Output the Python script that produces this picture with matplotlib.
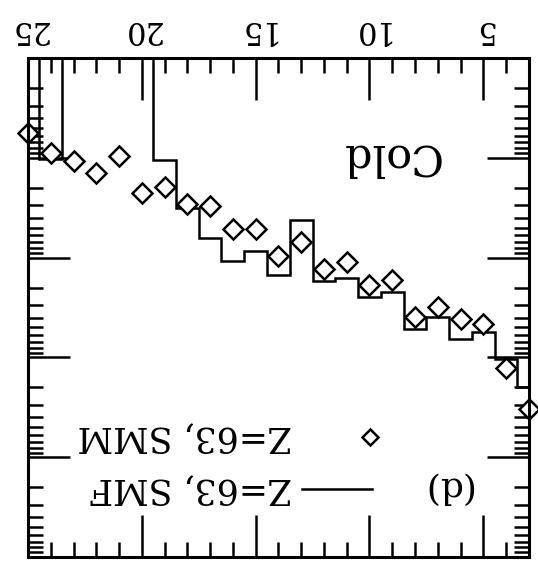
import numpy as np
import matplotlib.pyplot as plt
from matplotlib.ticker import MultipleLocator, LogLocator, NullFormatter

plt.rcParams['font.family'] = 'DejaVu Serif'

# isotope index (bin centres) and yields
n_vals = np.arange(3, 26)
bin_edges = np.arange(2.5, 26.0, 1.0)
smf_yield = [1.98e-2, 1.04e-2, 5.56e-3, 6.55e-3, 3.94e-3, 5.19e-3, 2.21e-3,
             2.48e-3, 1.60e-3, 1.71e-3, 4.2e-4, 1.49e-3, 8.6e-4, 1.08e-3,
             6.37e-4, 3.18e-4, 1.05e-4, 0, 0, 0, 0, 1.03e-4, 0]
smm_yield = [3.29e-2, 1.28e-2, 4.62e-3, 4.12e-3, 3.13e-3, 3.94e-3, 1.67e-3,
             1.88e-3, 1.11e-3, 1.30e-3, 6.98e-4, 9.6e-4, 5.16e-4, 5.16e-4,
             3.04e-4, 2.9e-4, 1.96e-4, 2.25e-4, 9.6e-5, 1.42e-4, 1.08e-4,
             8.95e-5, 5.65e-5]
x_ticks = [5, 10, 15, 20, 25]

fig = plt.figure(figsize=(5.38, 5.63), dpi=100)
ax = fig.add_axes([0.052, 0.0107, 0.931, 0.8863])

# empty bins go off the top of the (inverted) log axis
smf_draw = np.where(np.array(smf_yield) > 0, smf_yield, 1e-9)
ax.stairs(smf_draw, bin_edges, baseline=None, color='black', lw=1.8)
ax.plot(n_vals, smm_yield, 'D', ms=10, mfc='white', mec='black', mew=1.8,
        ls='none', clip_on=False)

ax.set_yscale('log')
ax.set_xlim(25, 3)
ax.set_ylim(1e0, 1e-5)

ax.set_xticks(x_ticks)
ax.xaxis.set_minor_locator(MultipleLocator(1))
ax.yaxis.set_major_locator(LogLocator(base=10, numticks=20))
ax.yaxis.set_minor_locator(LogLocator(base=10, subs=np.arange(2, 10), numticks=20))
ax.yaxis.set_minor_formatter(NullFormatter())

ax.tick_params(which='both', direction='in', top=True, bottom=True,
               left=True, right=True, width=1.8)
ax.tick_params(which='major', length=30)
ax.tick_params(which='minor', length=11)
ax.tick_params(axis='x', labeltop=True, labelbottom=False,
               labelrotation=180, labelsize=22, pad=9)
ax.tick_params(axis='y', labelleft=False, labelright=False)
for sp in ax.spines.values():
    sp.set_linewidth(2.2)

# hand-made legend, upside down like the rest
ax.plot([0.547, 0.687], [0.136, 0.136], color='black', lw=1.8,
        transform=ax.transAxes)
ax.text(0.527, 0.136, 'Z=63, SMF', transform=ax.transAxes, rotation=180,
        ha='right', va='center', fontsize=25)
ax.plot([0.683], [0.2405], 'D', ms=8, mfc='white', mec='black', mew=1.8,
        transform=ax.transAxes)
ax.text(0.527, 0.2405, 'Z=63, SMM', transform=ax.transAxes, rotation=180,
        ha='right', va='center', fontsize=25)
ax.text(0.836, 0.140, '(d)', transform=ax.transAxes, rotation=180,
        ha='center', va='center', fontsize=26)
ax.text(0.7226, 0.8016, 'Cold', transform=ax.transAxes, rotation=180,
        ha='center', va='center', fontsize=31)

fig.savefig('out.png', dpi=100)
